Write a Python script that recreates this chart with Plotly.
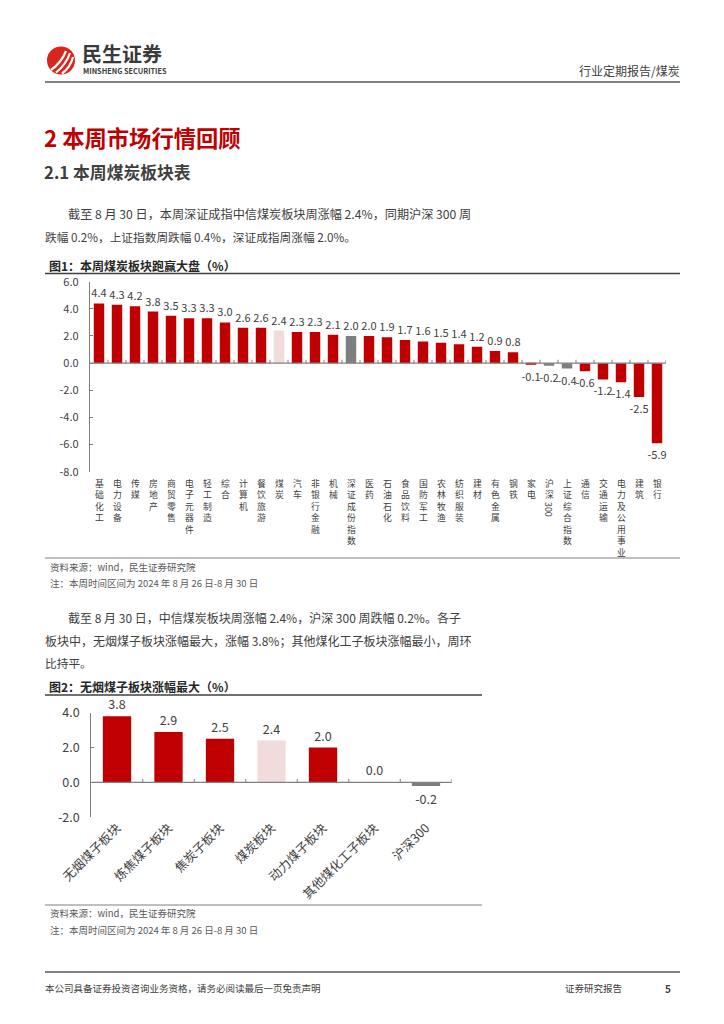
import plotly.graph_objects as go

W, H = 724, 1024
FONT = "Noto Sans CJK SC"

def px(x):
    return x / W

def py(y):
    return 1 - y / H

# ---------------- data ----------------
cats1 = ["基础化工", "电力设备", "传媒", "房地产", "商贸零售", "电子元器件", "轻工制造", "综合",
         "计算机", "餐饮旅游", "煤炭", "汽车", "非银行金融", "机械", "深证成份指数", "医药",
         "石油石化", "食品饮料", "国防军工", "农林牧渔", "纺织服装", "建材", "有色金属", "钢铁",
         "家电", "沪深300", "上证综合指数", "通信", "交通运输", "电力及公用事业", "建筑", "银行"]
vals1 = [4.4, 4.3, 4.2, 3.8, 3.5, 3.3, 3.3, 3.0, 2.6, 2.6, 2.4, 2.3, 2.3, 2.1, 2.0, 2.0,
         1.9, 1.7, 1.6, 1.5, 1.4, 1.2, 0.9, 0.8, -0.1, -0.2, -0.4, -0.6, -1.2, -1.4, -2.5, -5.9]

cats2 = ["无烟煤子板块", "炼焦煤子板块", "焦炭子板块", "煤炭板块", "动力煤子板块", "其他煤化工子板块", "沪深300"]
vals2 = [3.8, 2.9, 2.5, 2.4, 2.0, 0.0, -0.2]

highlight_cats = ["煤炭", "煤炭板块"]
index_cats = ["深证成份指数", "沪深300", "上证综合指数"]

yticks1 = [-8, -6, -4, -2, 0, 2, 4, 6]
yticks2 = [-2, 0, 2, 4]

RED = "#C00000"
PINK = "#F2DCDB"
GRAY = "#7F7F7F"
TXT = "#404040"


def color_for(c):
    if c in highlight_cats:
        return PINK
    if c in index_cats:
        return GRAY
    return RED


fig = go.Figure()

fig.add_trace(go.Bar(
    x=cats1, y=vals1, xaxis="x", yaxis="y",
    marker=dict(color=[color_for(c) for c in cats1], line=dict(width=0)),
    width=0.58,
    text=[f"{v:.1f}" for v in vals1], textposition="outside", constraintext="none",
    textfont=dict(family=FONT, size=11, color=TXT),
    cliponaxis=False, showlegend=False, hoverinfo="skip",
))

fig.add_trace(go.Bar(
    x=cats2, y=vals2, xaxis="x2", yaxis="y2",
    marker=dict(color=[color_for(c) for c in cats2], line=dict(width=0)),
    width=0.55,
    text=[f"{v:.1f}" for v in vals2], textposition="outside", constraintext="none",
    textfont=dict(family=FONT, size=12.5, color=TXT),
    cliponaxis=False, showlegend=False, hoverinfo="skip",
))

axis_common = dict(showgrid=False, zeroline=False, fixedrange=True, automargin=False)

fig.update_layout(
    width=W, height=H,
    margin=dict(l=0, r=0, t=0, b=0, pad=0, autoexpand=False),
    paper_bgcolor="white", plot_bgcolor="white",
    font=dict(family=FONT, color=TXT),
    xaxis=dict(domain=[px(90), px(666)], anchor="y", showticklabels=False, ticks="",
               showline=False, range=[-0.5, len(cats1) - 0.5], **axis_common),
    yaxis=dict(domain=[py(471.7), py(281.7)], anchor="x", range=[-8, 6],
               tickvals=yticks1, ticktext=[f"{v:.1f}" for v in yticks1],
               tickfont=dict(family=FONT, size=11, color=TXT),
               ticks="inside", ticklen=3, tickcolor="#808080",
               showline=True, linecolor="#808080", linewidth=1.3,
               ticklabelstandoff=8, **axis_common),
    xaxis2=dict(domain=[px(91.25), px(451.75)], anchor="y2", ticks="",
                showline=False, range=[-0.5, len(cats2) - 0.5],
                tickangle=-45, tickfont=dict(family=FONT, size=12.5, color=TXT),
                **axis_common),
    yaxis2=dict(domain=[py(817.3), py(712.7)], anchor="x2", range=[-2, 4],
                tickvals=yticks2, ticktext=[f"{v:.1f}" for v in yticks2],
                tickfont=dict(family=FONT, size=12.5, color=TXT),
                ticks="inside", ticklen=3, tickcolor="#808080",
                showline=True, linecolor="#808080", linewidth=1.3,
                ticklabelstandoff=8, **axis_common),
)

shapes = []
annotations = []

# zero lines and boundary ticks
for xr, yr, n, tick_h in (("x", "y", len(cats1), 0.25), ("x2", "y2", len(cats2), 0.2)):
    shapes.append(dict(type="line", xref=xr, yref=yr, x0=-0.5, x1=n - 0.5, y0=0, y1=0,
                       line=dict(color="#808080", width=1.3)))
    for i in range(n):
        b = i + 0.5
        shapes.append(dict(type="line", xref=xr, yref=yr, x0=b, x1=b, y0=0, y1=tick_h,
                           line=dict(color="#808080", width=1)))

# vertical category labels for chart 1 (upright CJK stacked, trailing latin run rotated)
FS1 = 8.8
LINE = FS1 * 1.3
y_top1 = 476
for c in cats1:
    cjk = "".join(ch for ch in c if ord(ch) >= 128)
    latin = "".join(ch for ch in c if ord(ch) < 128)
    annotations.append(dict(xref="x", yref="paper", x=c, y=py(y_top1),
                            text="<br>".join(cjk), showarrow=False,
                            xanchor="center", yanchor="top", borderpad=0,
                            font=dict(family=FONT, size=FS1, color=TXT)))
    if latin:
        start = y_top1 + len(cjk) * LINE + 2
        length = len(latin) * FS1 * 0.62
        annotations.append(dict(xref="x", yref="paper", x=c, y=py(start + length / 2),
                                text=latin, showarrow=False, textangle=90,
                                xanchor="center", yanchor="middle", borderpad=0,
                                font=dict(family=FONT, size=FS1, color=TXT)))


def text(x, y, s, size, color=TXT, bold=False, anchor="left"):
    annotations.append(dict(xref="paper", yref="paper", x=px(x), y=py(y),
                            text=f"<b>{s}</b>" if bold else s, showarrow=False,
                            xanchor=anchor, yanchor="middle", borderpad=0,
                            font=dict(family=FONT, size=size, color=color)))


def hline(y, x0, x1, color, width):
    shapes.append(dict(type="line", xref="paper", yref="paper", x0=px(x0), x1=px(x1),
                       y0=py(y), y1=py(y), line=dict(color=color, width=width)))


# ---------------- header ----------------
shapes.append(dict(type="circle", xref="paper", yref="paper",
                   x0=px(47), x1=px(75), y0=py(74.5), y1=py(46.5),
                   fillcolor="#D9261C", line=dict(width=0)))
for a, b in (((51, 70), (66, 51)), ((56, 72.5), (70, 53)), ((62, 73.5), (73, 57))):
    shapes.append(dict(type="path", xref="paper", yref="paper",
                       path=f"M {px(a[0])},{py(a[1])} Q {px((a[0]+b[0])/2 + 3)},{py((a[1]+b[1])/2 + 2)} {px(b[0])},{py(b[1])}",
                       line=dict(color="white", width=2.2)))
text(81, 53.5, "民生证券", 20, "#3A3A3A", bold=True)
text(82, 71, "MINSHENG SECURITIES", 7.3, "#3A3A3A", bold=True)
text(681, 70, "行业定期报告/煤炭", 12, TXT, anchor="right")
hline(82, 45, 680, "#595959", 1.5)

# ---------------- headings & paragraphs ----------------
text(43, 137, "2 本周市场行情回顾", 22.3, RED, bold=True)
text(43, 172, "2.1 本周煤炭板块表", 16.8, TXT, bold=True)
text(67, 213, "截至 8 月 30 日，本周深证成指中信煤炭板块周涨幅 2.4%，同期沪深 300 周", 12.15)
text(44, 236, "跌幅 0.2%，上证指数周跌幅 0.4%，深证成指周涨幅 2.0%。", 11.7)

text(48, 265, "图1：本周煤炭板块跑赢大盘（%）", 12, "#262626", bold=True)
hline(273.5, 45, 680, "#404040", 1.3)
hline(558, 45, 680, "#7F7F7F", 1)
text(49, 567, "资料来源：wind，民生证券研究院", 9.5, "#595959")
text(49, 583, "注：本周时间区间为 2024 年 8 月 26 日-8 月 30 日", 9.5, "#595959")

text(67, 617, "截至 8 月 30 日，中信煤炭板块周涨幅 2.4%，沪深 300 周跌幅 0.2%。各子", 12.0)
text(44, 640, "板块中，无烟煤子板块涨幅最大，涨幅 3.8%；其他煤化工子板块涨幅最小，周环", 12.0)
text(44, 662, "比持平。", 11.7)

text(48, 686, "图2：无烟煤子板块涨幅最大（%）", 12, "#262626", bold=True)
hline(695, 45, 482, "#404040", 1.3)
hline(905, 45, 482, "#7F7F7F", 1)
text(49, 913, "资料来源：wind，民生证券研究院", 9.5, "#595959")
text(49, 930, "注：本周时间区间为 2024 年 8 月 26 日-8 月 30 日", 9.5, "#595959")

# ---------------- footer ----------------
hline(972, 45, 680, "#595959", 1.5)
text(44, 988, "本公司具备证券投资咨询业务资格，请务必阅读最后一页免责声明", 9.5, "#404040")
text(564, 988, "证券研究报告", 9.5, "#404040")
text(672, 988, "5", 10, "#404040", bold=True, anchor="right")

fig.update_layout(shapes=shapes, annotations=annotations)

fig.write_html("out.html",
               config={"displayModeBar": False},
               post_script="document.body.style.margin='0';document.body.style.padding='0';")
